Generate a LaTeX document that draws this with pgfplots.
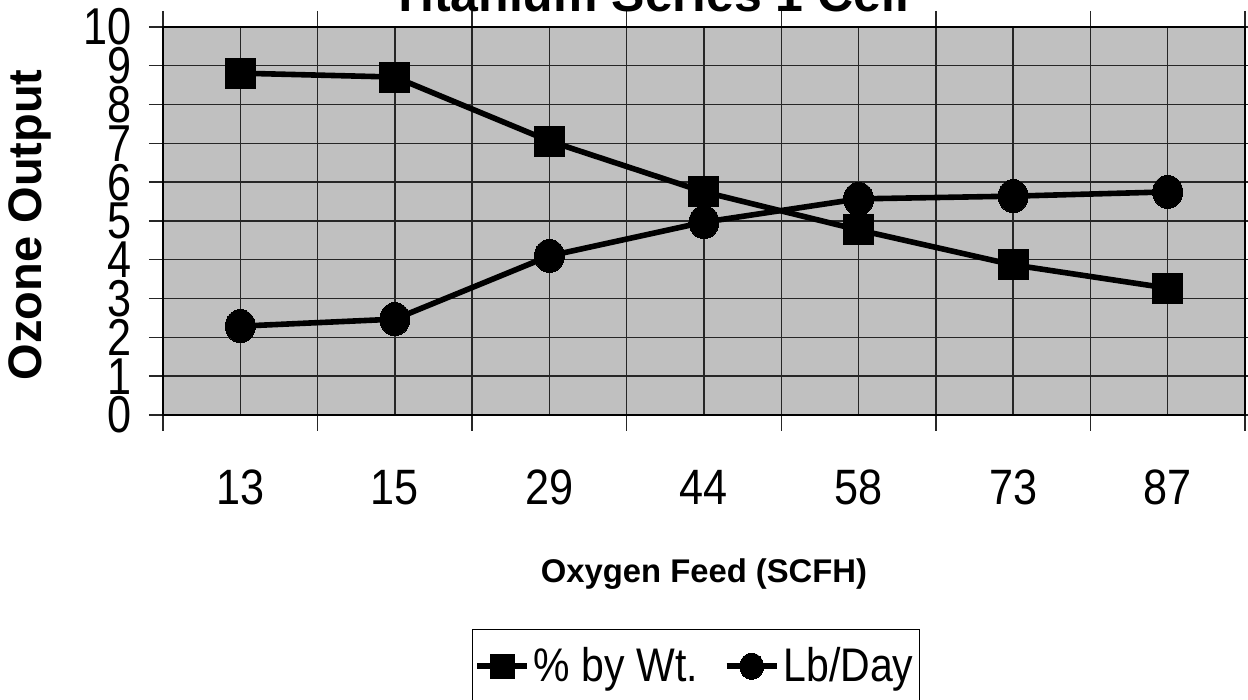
\documentclass[border=0pt]{standalone}
\usepackage{fontspec}
\setmainfont{Liberation Sans}
\usepackage{graphicx}
\usepackage{pgfplots}
\pgfplotsset{compat=1.18}
\definecolor{plotbg}{HTML}{C0C0C0}
\newcommand{\vs}[1]{\scalebox{1}[1.15]{#1}}
\begin{document}
\begin{tikzpicture}
\begin{axis}[
  at={(0,0)}, anchor=south west,
  scale only axis, width=541pt, height=194pt,
  xmin=-0.5, xmax=6.5, ymin=0, ymax=10,
  axis background/.style={fill=plotbg},
  axis line style={black, line width=1pt},
  xtick={0,...,6},
  xticklabels={\vs{13},\vs{15},\vs{29},\vs{44},\vs{58},\vs{73},\vs{87}},
  minor xtick={-0.5,0.5,...,6.5},
  ytick={0,...,10},
  yticklabel={\scalebox{1}[1.2]{\pgfmathprintnumber[assume math mode=true]{\tick}}},
  grid=both,
  major grid style={black!85, line width=0.7pt},
  minor grid style={black!85, line width=0.7pt},
  tick align=outside,
  major tick length=7pt,
  minor tick length=8pt,
  major x tick style={draw=none},
  tick style={black!85, line width=0.7pt},
  ticklabel style={font=\fontsize{21.6}{24}\selectfont},
  yticklabel style={xshift=-5pt},
  xticklabel style={yshift=-17pt, text height=17pt, text depth=0pt},
  xlabel={\bfseries Oxygen Feed (SCFH)},
  xlabel style={at={(axis description cs:0.5,-0.41)}, anchor=center, font=\fontsize{16.4}{19}\selectfont},
  ylabel={\bfseries Ozone Output},
  ylabel style={at={(axis description cs:-0.1229,0.49)}, anchor=center, font=\fontsize{23.5}{27}\selectfont},
  title={\bfseries Titanium Series 1 Cell},
  title style={at={(axis description cs:0.45,1)}, anchor=base, yshift=1.5pt, font=\fontsize{25}{30}\selectfont},
  legend columns=2,
  legend style={at={(axis description cs:0.4925,-0.5515)}, anchor=north, draw=black, line width=0.7pt,
    font=\fontsize{20.5}{24}\selectfont, inner xsep=1pt, inner ysep=7pt,
    nodes={inner xsep=2pt},
    /tikz/every even column/.append style={column sep=11pt}},
  legend image code/.code={\draw[#1, line width=2.8pt] (0pt,0pt) -- (25pt,0pt); \path[#1, mark size=6pt] plot coordinates {(12.5pt,0pt)};},
]
\addplot[black, line width=2.8pt, mark=square*, mark size=7.5pt, mark options={line width=0pt}]
  coordinates {(0,8.81) (1,8.71) (2,7.06) (3,5.75) (4,4.77) (5,3.87) (6,3.27)};
\addlegendentry{\vs{\% by Wt.}}
\addplot[black, line width=2.8pt, mark=*, mark size=7.5pt, mark options={line width=0pt, yscale=1.1}]
  coordinates {(0,2.29) (1,2.47) (2,4.10) (3,4.97) (4,5.57) (5,5.64) (6,5.75)};
\addlegendentry{\vs{Lb/Day}}
\end{axis}
\pgfresetboundingbox
\useasboundingbox (-81.5pt,-142.5pt) rectangle (542.5pt,207.5pt);
\end{tikzpicture}
\end{document}
